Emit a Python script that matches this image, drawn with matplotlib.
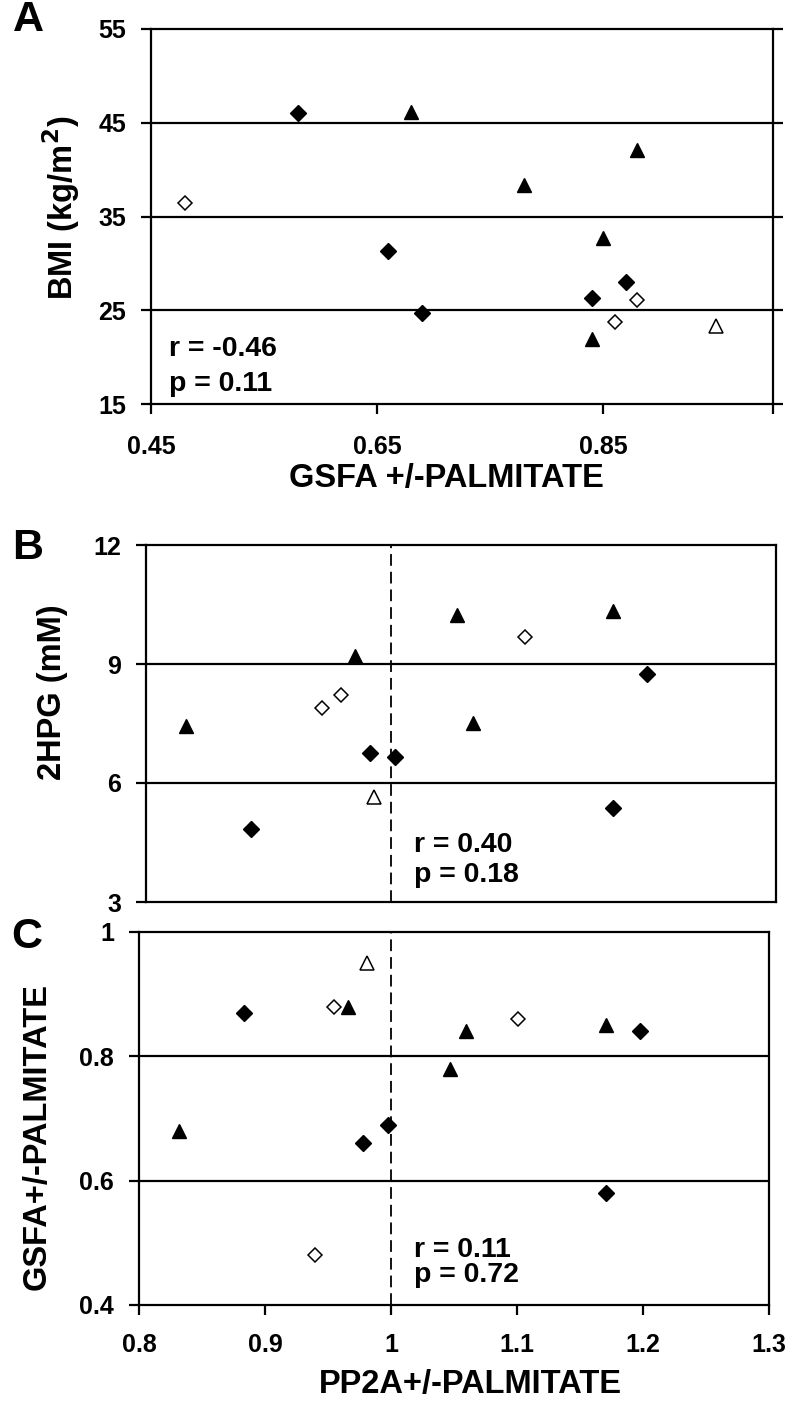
import matplotlib
matplotlib.use("Agg")
import matplotlib.pyplot as plt
from matplotlib.ticker import FixedLocator
from matplotlib.transforms import blended_transform_factory

plt.rcParams['font.family'] = ['Liberation Sans', 'DejaVu Sans']
plt.rcParams['font.weight'] = 'bold'

# ---- data (one entry per subject, grouped by marker style) ----
# filled diamonds
fd_gsfa = [0.58, 0.66, 0.69, 0.87, 0.84]
fd_bmi = [46.0, 31.3, 24.7, 28.0, 26.3]
fd_pp2a = [1.171, 0.978, 0.998, 0.883, 1.198]
fd_hpg = [5.37, 6.75, 6.65, 4.85, 8.76]
# filled triangles
ft_gsfa = [0.68, 0.78, 0.88, 0.85, 0.84]
ft_bmi = [46.1, 38.4, 42.05, 32.7, 21.9]
ft_pp2a = [0.832, 1.047, 0.966, 1.171, 1.0595]
ft_hpg = [7.43, 10.23, 9.2, 10.33, 7.52]
# open diamonds
od_gsfa = [0.48, 0.88, 0.86]
od_bmi = [36.4, 26.1, 23.8]
od_pp2a = [0.940, 0.955, 1.101]
od_hpg = [7.88, 8.21, 9.68]
# open triangle
ot_gsfa = [0.95]
ot_bmi = [23.3]
ot_pp2a = [0.981]
ot_hpg = [5.65]

a_yticks = [15, 25, 35, 45, 55]
a_xticks = [0.45, 0.65, 0.85]
b_yticks = [3, 6, 9, 12]
c_yticks = [0.4, 0.6, 0.8, 1.0]
c_xticks = [0.8, 0.9, 1.0, 1.1, 1.2, 1.3]
ref_x = 1.0

stats = {'A': ('r = -0.46', 'p = 0.11'), 'B': ('r = 0.40', 'p = 0.18'), 'C': ('r = 0.11', 'p = 0.72')}

W, H = 800, 1410
fig = plt.figure(figsize=(W / 100, H / 100), dpi=100)


def rect(l, t, r, b):
    return [l / W, 1 - b / H, (r - l) / W, (b - t) / H]


def fpos(x, y):
    return x / W, 1 - y / H


axA = fig.add_axes(rect(151, 29, 773, 404))
axB = fig.add_axes(rect(146, 545, 776, 902))
axC = fig.add_axes(rect(139, 932, 769, 1305))

LW = 1.6
TICK_FS = 18


def style(ax):
    for s in ax.spines.values():
        s.set_linewidth(LW)
        s.set_color('black')
    ax.tick_params(axis='both', direction='out', length=7, width=LW,
                   labelsize=TICK_FS, colors='black')
    for lab in ax.get_xticklabels() + ax.get_yticklabels():
        lab.set_fontweight('bold')


def scatter(ax, xs_list, ys_list):
    (fdx, ftx, odx, otx), (fdy, fty, ody, oty) = xs_list, ys_list
    ax.plot(fdx, fdy, 'D', ms=7.8, mfc='black', mec='black', mew=1, ls='none', zorder=5, clip_on=False)
    ax.plot(ftx, fty, '^', ms=10, mfc='black', mec='black', mew=1, ls='none', zorder=5, clip_on=False)
    ax.plot(odx, ody, 'D', ms=7.2, mfc='white', mec='black', mew=1.1, ls='none', zorder=5, clip_on=False)
    ax.plot(otx, oty, '^', ms=9.5, mfc='white', mec='black', mew=1.1, ls='none', zorder=5, clip_on=False)


# ---- Panel A ----
axA.set_xlim(0.45, 1.0)
axA.set_ylim(15, 55)
for g in a_yticks[1:-1]:
    axA.axhline(g, color='black', lw=LW, zorder=1)
scatter(axA, (fd_gsfa, ft_gsfa, od_gsfa, ot_gsfa), (fd_bmi, ft_bmi, od_bmi, ot_bmi))
axA.xaxis.set_major_locator(FixedLocator(a_xticks))
axA.set_xticklabels(['%.2f' % v for v in a_xticks])
axA.xaxis.set_minor_locator(FixedLocator([1.0]))
axA.yaxis.set_major_locator(FixedLocator(a_yticks))
axA.set_yticklabels([str(v) for v in a_yticks])
style(axA)
axA.tick_params(axis='x', which='both', length=7, width=LW, pad=15)
axA.tick_params(axis='y', pad=11, right=True, labelright=False)

# ---- Panel B ----
axB.set_xlim(0.8, 1.3)
axB.set_ylim(3, 12)
for g in b_yticks[1:-1]:
    axB.axhline(g, color='black', lw=LW, zorder=1)
scatter(axB, (fd_pp2a, ft_pp2a, od_pp2a, ot_pp2a), (fd_hpg, ft_hpg, od_hpg, ot_hpg))
axB.yaxis.set_major_locator(FixedLocator(b_yticks))
axB.set_yticklabels([str(v) for v in b_yticks])
axB.set_xticks([])
style(axB)
axB.tick_params(axis='y', pad=11)

# ---- Panel C ----
axC.set_xlim(0.8, 1.3)
axC.set_ylim(0.4, 1.0)
for g in c_yticks[1:-1]:
    axC.axhline(g, color='black', lw=LW, zorder=1)
scatter(axC, (fd_pp2a, ft_pp2a, od_pp2a, ot_pp2a), (fd_gsfa, ft_gsfa, od_gsfa, ot_gsfa))
axC.xaxis.set_major_locator(FixedLocator(c_xticks))
axC.set_xticklabels(['%g' % v for v in c_xticks])
axC.yaxis.set_major_locator(FixedLocator(c_yticks))
axC.set_yticklabels(['%g' % v for v in c_yticks])
style(axC)
axC.tick_params(axis='x', pad=13)
axC.tick_params(axis='y', pad=11)

# dashed reference line at PP2A = 1 (drawn at panel C's x position through B and C)
for ax in (axB, axC):
    tr = blended_transform_factory(axC.transData, ax.transAxes)
    ax.plot([ref_x, ref_x], [0, 1], transform=tr, color='black', lw=1.3,
            dashes=(6.5, 3.3), zorder=2)

# ---- axis labels ----
LAB_FS = 23.5
fig.text(*fpos(61, 208), 'BMI (kg/m$\\mathbf{^2}$)', rotation=90, ha='center', va='center',
         fontsize=LAB_FS, fontweight='bold')
fig.text(*fpos(53, 692), '2HPG (mM)', rotation=90, ha='center', va='center',
         fontsize=LAB_FS, fontweight='bold')
fig.text(*fpos(37, 1137), 'GSFA+/-PALMITATE', rotation=90, ha='center', va='center',
         fontsize=LAB_FS, fontweight='bold')
fig.text(*fpos(446, 479), 'GSFA +/-PALMITATE', ha='center', va='center',
         fontsize=LAB_FS, fontweight='bold')
fig.text(*fpos(470, 1385), 'PP2A+/-PALMITATE', ha='center', va='center',
         fontsize=LAB_FS, fontweight='bold')

# ---- panel letters ----
for letter, (x, y) in zip('ABC', [(28, 20), (28, 548), (27, 937)]):
    fig.text(*fpos(x, y), letter, ha='center', va='center', fontsize=31, fontweight='bold')

# ---- statistics ----
ST_FS = 20.5
for key, (x, y1, y2) in zip('ABC', [(169, 356, 391), (414, 852, 882), (414, 1257, 1282)]):
    r, p = stats[key]
    fig.text(*fpos(x, y1), r, ha='left', va='baseline', fontsize=ST_FS, fontweight='bold')
    fig.text(*fpos(x, y2), p, ha='left', va='baseline', fontsize=ST_FS, fontweight='bold')

fig.savefig('out.png', dpi=100)
